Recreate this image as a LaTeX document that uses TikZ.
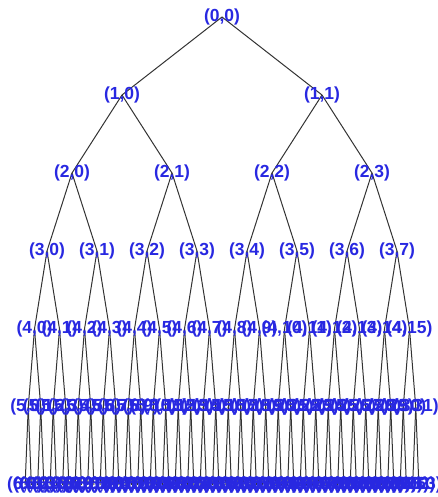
\documentclass[tikz,border=0pt]{standalone}
\usepackage{fontspec}
\setmainfont{Liberation Sans}
\usetikzlibrary{backgrounds}
\definecolor{lblue}{RGB}{40,40,225}
\begin{document}
\begin{tikzpicture}[x=1pt,y=-1pt,
  lbl/.style={text=lblue, font=\bfseries\fontsize{17.5}{17.5}\selectfont, inner sep=0pt},
  edge/.style={draw=black!80, line width=1pt}]
\useasboundingbox (0,0) rectangle (438,497);
\foreach \L in {0,...,6} {
  \pgfmathtruncatemacro\N{2^\L-1}
  \pgfmathsetmacro\w{400/(2^\L)}
  \foreach \i in {0,...,\N} {
    \pgfmathsetmacro\xx{22+(\i+0.5)*\w}
    \pgfmathsetmacro\yy{17+78*\L}
    \node[lbl] (n-\L-\i) at (\xx,\yy) {(\L,\i)};
  }
}
\begin{scope}[on background layer]
\foreach \L in {0,...,5} {
  \pgfmathtruncatemacro\N{2^\L-1}
  \pgfmathtruncatemacro\M{\L+1}
  \foreach \i in {0,...,\N} {
    \pgfmathtruncatemacro\a{2*\i}
    \pgfmathtruncatemacro\b{2*\i+1}
    \draw[edge] (n-\L-\i.center) -- (n-\M-\a.center);
    \draw[edge] (n-\L-\i.center) -- (n-\M-\b.center);
  }
}
\end{scope}
\end{tikzpicture}
\end{document}
